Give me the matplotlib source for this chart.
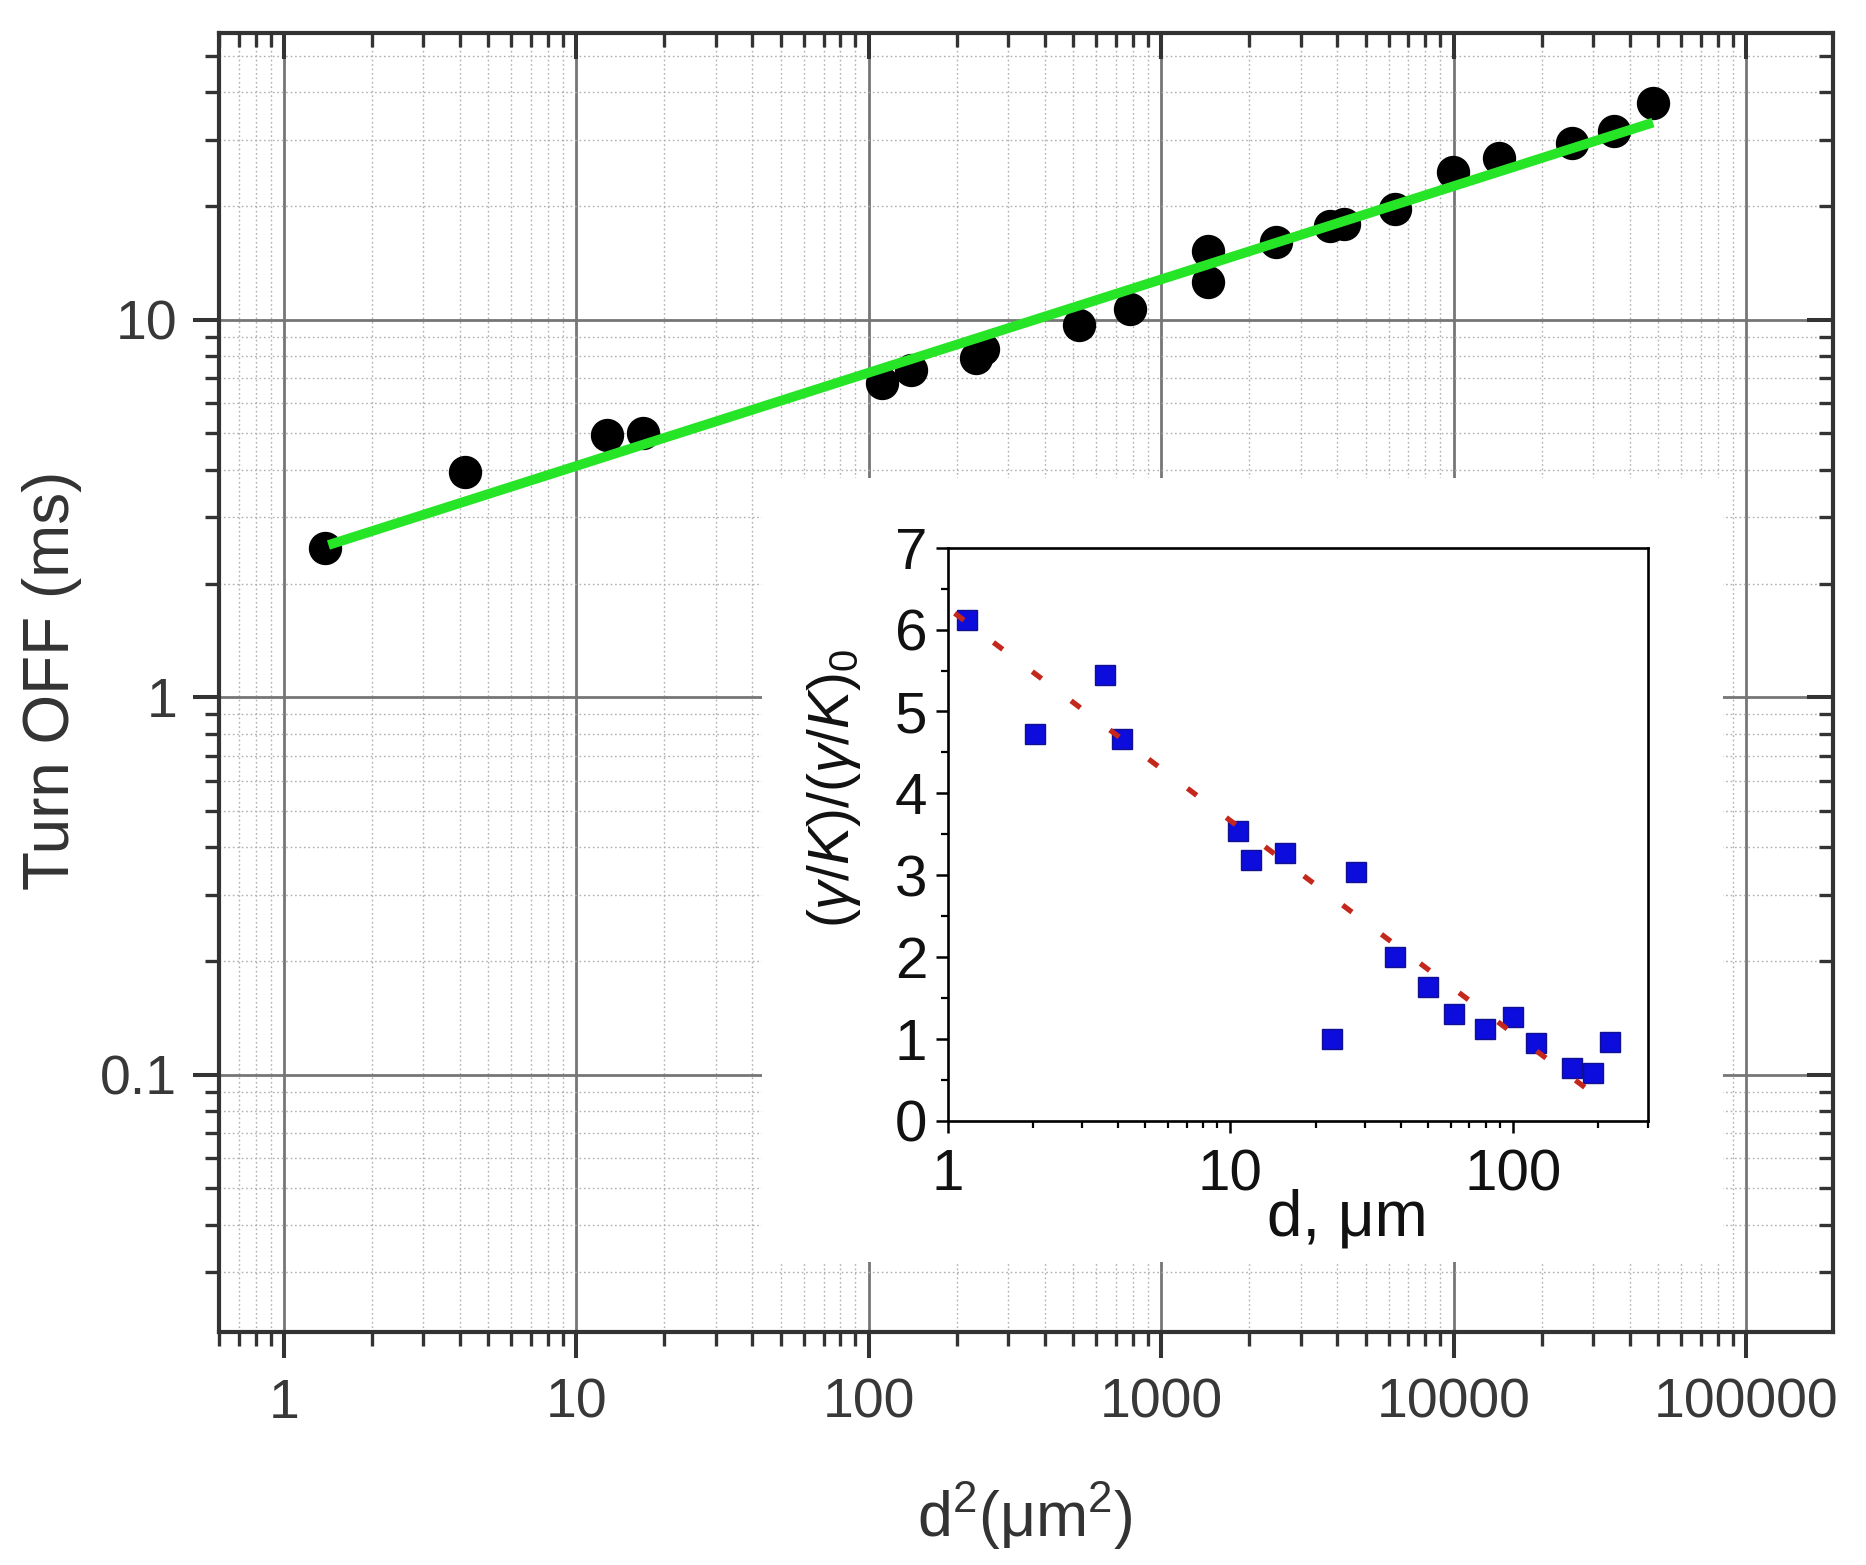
import numpy as np
import matplotlib.pyplot as plt
from matplotlib.ticker import FixedLocator, FixedFormatter, LogLocator, NullFormatter, MultipleLocator
from matplotlib.patches import Rectangle

plt.rcParams['font.family'] = ['Liberation Sans', 'DejaVu Sans']
plt.rcParams['mathtext.fontset'] = 'custom'
plt.rcParams['mathtext.rm'] = 'Liberation Sans'
plt.rcParams['mathtext.it'] = 'Liberation Sans:italic'

# main panel: turn-off time vs d^2
d2_um2 = [1.38, 4.16, 12.7, 16.9, 111, 139, 232, 245, 522, 780,
          1443, 1443, 2471, 3780, 4210, 6310, 9950, 14320, 25300, 35300, 48000]
turn_off_ms = [2.49, 3.96, 4.96, 5.0, 6.8, 7.36, 7.9, 8.35, 9.7, 10.67,
               12.6, 15.2, 16.1, 17.7, 17.9, 19.6, 24.7, 26.8, 29.4, 31.6, 37.6]
fit_d2 = [1.42, 48000]
fit_t = [2.53, 33.3]

main_xticks = [1, 10, 100, 1000, 10000, 100000]
main_xlabels = ['1', '10', '100', '1000', '10000', '100000']
main_yticks = [0.1, 1, 10]
main_ylabels = ['0.1', '1', '10']

# inset: normalised gamma/K vs d
d_um = [1.17, 2.04, 3.59, 4.13, 10.6, 11.8, 15.6, 22.9, 27.8, 38.1,
        49.8, 61.8, 79.3, 100, 120, 161, 191, 219]
ratio = [6.12, 4.72, 5.45, 4.67, 3.54, 3.19, 3.27, 1.0, 3.04, 2.0,
         1.64, 1.31, 1.12, 1.27, 0.95, 0.65, 0.58, 0.97]
fit_d = [1.06, 194]
fit_r = [6.2, 0.32]

inset_xticks = [1, 10, 100]
inset_xlabels = ['1', '10', '100']
inset_yticks = [0, 1, 2, 3, 4, 5, 6, 7]

W, H = 1866, 1565
fig = plt.figure(figsize=(W / 100, H / 100), dpi=100)


def fbox(x0, y0, x1, y1):
    # pixel box (top-left origin) -> figure fraction rect
    return [x0 / W, 1 - y1 / H, (x1 - x0) / W, (y1 - y0) / H]


ink = '#333333'
ax = fig.add_axes(fbox(219, 33, 1833, 1332))
ax.set_xscale('log')
ax.set_yscale('log')
ax.set_xlim(0.6, 1.98e5)
ax.set_ylim(0.0208, 57.5)

ax.xaxis.set_major_locator(FixedLocator(main_xticks))
ax.xaxis.set_major_formatter(FixedFormatter(main_xlabels))
ax.yaxis.set_major_locator(FixedLocator(main_yticks))
ax.yaxis.set_major_formatter(FixedFormatter(main_ylabels))
for a in (ax.xaxis, ax.yaxis):
    a.set_minor_locator(LogLocator(base=10, subs=range(2, 10), numticks=30))
    a.set_minor_formatter(NullFormatter())

ax.grid(which='major', color='#767676', lw=2.0, ls='-')
ax.grid(which='minor', color='#b0b0b0', lw=1.0, ls=(0, (1.2, 2.0)))

ax.tick_params(which='major', direction='out', length=19, width=2.9, color=ink,
               labelsize=40, labelcolor='#383838')
ax.tick_params(which='minor', direction='out', length=10, width=2.4, color=ink)
ax.tick_params(axis='x', which='major', pad=14)
ax.tick_params(axis='y', which='major', pad=11)
for s in ax.spines.values():
    s.set_linewidth(3)
    s.set_color(ink)

# mirrored ticks pointing inward on top and right
axt = ax.twiny()
axt.set_xscale('log')
axt.set_xlim(ax.get_xlim())
axt.xaxis.set_major_locator(FixedLocator(main_xticks))
axt.xaxis.set_minor_locator(LogLocator(base=10, subs=range(2, 10), numticks=30))
axt.tick_params(which='major', direction='in', length=19, width=2.9, color=ink, labeltop=False)
axt.tick_params(which='minor', direction='in', length=10, width=2.4, color=ink)
axr = ax.twinx()
axr.set_yscale('log')
axr.set_ylim(ax.get_ylim())
axr.yaxis.set_major_locator(FixedLocator(main_yticks))
axr.yaxis.set_minor_locator(LogLocator(base=10, subs=range(2, 10), numticks=30))
axr.tick_params(which='major', direction='in', length=19, width=2.9, color=ink, labelright=False)
axr.tick_params(which='minor', direction='in', length=10, width=2.4, color=ink)
for t in (axt, axr):
    for s in t.spines.values():
        s.set_visible(False)

# white backing for the inset
ax.add_patch(Rectangle((762 / W, 1 - 1262 / H), 961 / W, 784 / H, transform=fig.transFigure,
                       facecolor='white', edgecolor='none', zorder=1.6))

ax.plot(d2_um2, turn_off_ms, 'o', color='black', ms=23, zorder=3)
ax.plot(fit_d2, fit_t, '-', color='#26e426', lw=7, solid_capstyle='butt', zorder=4)

fig.text(52 / W, 1 - 680 / H, 'Turn OFF (ms)', rotation=90, ha='center', va='center',
         fontsize=46, color='#333333')
fig.text(1025 / W, 1 - 1516 / H, 'd$^2$(μm$^2$)', ha='center', va='center',
         fontsize=45, color='#333333')

# inset
axi = fig.add_axes(fbox(947.5, 547.7, 1648.3, 1121))
axi.set_xscale('log')
axi.set_xlim(1, 300)
axi.set_ylim(0, 7)
axi.xaxis.set_major_locator(FixedLocator(inset_xticks))
axi.xaxis.set_major_formatter(FixedFormatter(inset_xlabels))
axi.xaxis.set_minor_locator(LogLocator(base=10, subs=range(2, 10), numticks=30))
axi.xaxis.set_minor_formatter(NullFormatter())
axi.yaxis.set_major_locator(FixedLocator(inset_yticks))
axi.yaxis.set_minor_locator(MultipleLocator(0.5))

axi.plot(d_um, ratio, 's', color='#0c0cdc', mec='#101090', mew=1.0, ms=14, zorder=3)
axi.plot(fit_d, fit_r, color='#c4281c', lw=3.8, ls=(0, (2.2, 7.0)), zorder=4)

axi.tick_params(which='major', direction='out', length=8.5, width=1.8, color='black',
                labelsize=42, labelcolor='#111111')
axi.tick_params(which='minor', direction='out', length=5, width=1.6, color='black')
axi.tick_params(axis='x', which='major', pad=11)
axi.tick_params(axis='y', which='major', pad=6)
for s in axi.spines.values():
    s.set_linewidth(1.9)
    s.set_color('black')

fig.text(834 / W, 1 - 788 / H, r'$(\gamma/K)/(\gamma/K)_0$', rotation=90, ha='center',
         va='center', fontsize=41, color='#111111')
fig.text(1347 / W, 1 - 1236 / H, 'd, μm', ha='center', va='baseline', fontsize=46,
         color='#111111')

fig.savefig('out.png', dpi=100)
